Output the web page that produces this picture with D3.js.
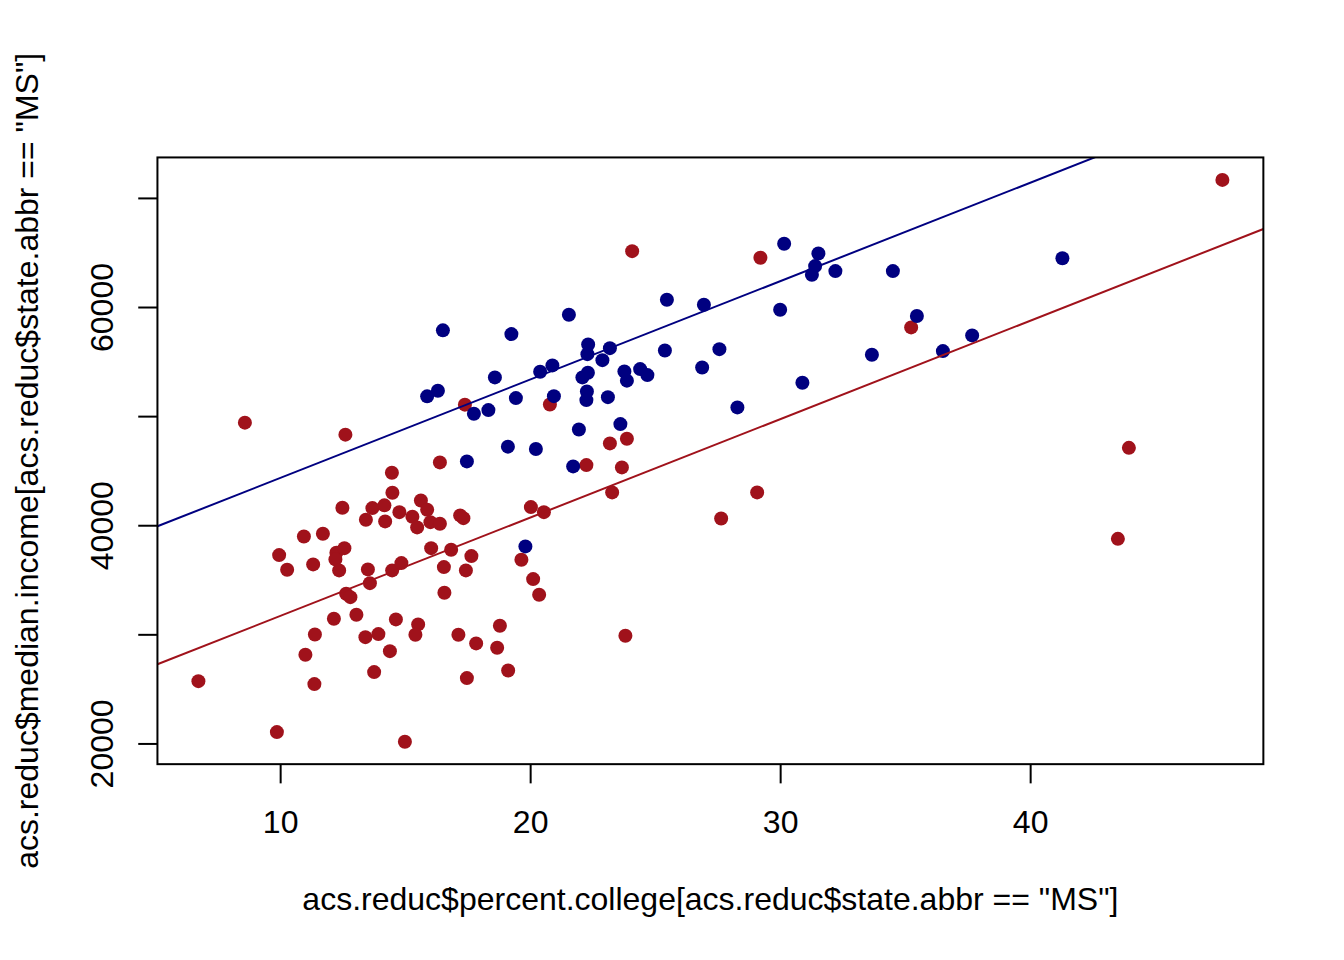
<!DOCTYPE html>
<html>
<head>
<meta charset="utf-8">
<script src="https://cdn.jsdelivr.net/npm/d3@7"></script>
<style>
  html, body { margin: 0; padding: 0; background: #ffffff; }
  svg { display: block; font-family: "Liberation Sans", Arial, Helvetica, sans-serif; }
</style>
</head>
<body>
<svg id="chart" width="1344" height="960"></svg>
<script>

// percent college / median income, counties outside MS (blue)
var otherCollege = [16.51, 15.88, 16.31, 25.47, 26.95, 21.55, 19.25, 22.32, 22.29, 23.19,
    22.89, 25.39, 27.57, 26.88, 18.59, 20.40, 20.89, 22.31, 22.09, 23.77,
    23.87, 24.40, 24.69, 19.43, 20.95, 17.75, 18.33, 22.27, 22.25, 23.11,
    21.95, 23.61, 19.11, 20.23, 17.47, 21.72, 19.81, 30.16, 31.53, 31.40,
    31.27, 32.21, 34.51, 30.00, 35.47, 33.67, 36.51, 37.68, 30.89, 28.29, 41.29];
var otherIncome = [57860, 51810, 52330, 60670, 60210, 59290, 57520, 56570, 55680, 56230,
    55130, 56020, 56140, 54460, 53550, 54070, 54650, 53980, 53550, 54100,
    53250, 54310, 53760, 51650, 51830, 50220, 50550, 52260, 51470, 51740,
    48780, 49270, 47200, 46980, 45850, 45390, 38060, 65800, 64910, 63750,
    62960, 63290, 63290, 59750, 59170, 55630, 55960, 57400, 53060, 50800, 64470];

// counties in MS (red)
var msCollege = [8.59, 12.61, 16.39, 14.47, 14.49, 12.49, 13.69, 14.17, 13.43, 14.20,
    14.77, 15.63, 15.88, 15.29, 15.48, 16.01, 16.39, 10.95, 11.71, 9.96,
    10.28, 11.32, 12.25, 12.57, 12.21, 12.36, 13.51, 13.59, 14.48, 14.85,
    16.04, 16.55, 16.57, 12.64, 12.81, 13.05, 12.15, 11.39, 11.01, 13.41,
    13.93, 14.63, 15.52, 15.41, 14.39, 13.76, 11.37, 6.73, 9.87, 14.99,
    22.25, 23.67, 23.28, 27.64, 20.03, 20.55, 17.20, 17.33, 16.84, 17.65,
    17.43, 19.65, 20.12, 20.36, 18.79, 17.13, 17.84, 18.68, 19.12, 17.47,
    23.81, 24.08, 20.79, 17.39, 23.19, 23.87, 29.21, 35.24, 29.08, 47.69,
    43.95, 43.51];
var msIncome = [49400, 48300, 45760, 44810, 42980, 41600, 41570, 41820, 40500, 40350,
    41200, 42270, 41420, 40780, 39800, 40280, 40140, 38970, 39220, 37260,
    35920, 36410, 37480, 37900, 36870, 35860, 35950, 34690, 35860, 36530,
    37900, 36160, 33810, 33720, 33410, 31800, 31430, 29990, 28130, 29740,
    30020, 31370, 30910, 29960, 28460, 26540, 25440, 25710, 21040, 20160,
    45510, 45300, 43010, 40620, 41660, 41200, 40900, 40650, 37750, 37170,
    35860, 36840, 35060, 33630, 30790, 29960, 29170, 28770, 26690, 25990,
    29870, 65120, 51070, 51050, 47500, 47930, 64520, 58130, 43010, 71650,
    47090, 38750];

// fitted lines (common slope), intercept + slope
var fitOther = [35310, 902];
var fitMS = [22660, 902];

var xTicks = [10, 20, 30, 40];
var yTicks = [20000, 30000, 40000, 50000, 60000, 70000];
var yTickLabels = ["20000", "", "40000", "", "60000", ""];

var xTitle = 'acs.reduc$percent.college[acs.reduc$state.abbr == "MS"]';
var yTitle = 'acs.reduc$median.income[acs.reduc$state.abbr == "MS"]';

var colBlue = "#000080";
var colRed = "#a0121b";

var width = 1344, height = 960;
var line = 38.4;  // one margin line in px
var margin = { top: 4.1 * line, right: 2.1 * line, bottom: 5.1 * line, left: 4.1 * line };
var fontSize = 32;

var svg = d3.select("#chart");

// R style range: data extent padded 4% on each side
function padded(values) {
    var ext = d3.extent(values);
    var pad = (ext[1] - ext[0]) * 0.04;
    return [ext[0] - pad, ext[1] + pad];
}

var x = d3.scaleLinear()
    .domain(padded(otherCollege.concat(msCollege)))
    .range([margin.left, width - margin.right]);

var y = d3.scaleLinear()
    .domain(padded(otherIncome.concat(msIncome)))
    .range([height - margin.bottom, margin.top]);

var plotBottom = height - margin.bottom;

svg.append("rect")
    .attr("width", width)
    .attr("height", height)
    .attr("fill", "#ffffff");

svg.append("clipPath")
    .attr("id", "plotclip")
    .append("rect")
    .attr("x", margin.left)
    .attr("y", margin.top)
    .attr("width", width - margin.left - margin.right)
    .attr("height", height - margin.top - margin.bottom);

// points
var red = msCollege.map((d, i) => ({ x: d, y: msIncome[i] }));
var blue = otherCollege.map((d, i) => ({ x: d, y: otherIncome[i] }));

svg.append("g")
    .selectAll("circle")
    .data(red)
    .enter()
    .append("circle")
    .attr("cx", d => x(d.x))
    .attr("cy", d => y(d.y))
    .attr("r", 7)
    .attr("fill", colRed);

svg.append("g")
    .selectAll("circle")
    .data(blue)
    .enter()
    .append("circle")
    .attr("cx", d => x(d.x))
    .attr("cy", d => y(d.y))
    .attr("r", 7)
    .attr("fill", colBlue);

// abline for each group, clipped to the plot box
var xd = x.domain();
var ab = svg.append("g").attr("clip-path", "url(#plotclip)");
[[fitOther, colBlue], [fitMS, colRed]].forEach(function (f) {
    var c = f[0];
    ab.append("line")
        .attr("x1", x(xd[0]))
        .attr("y1", y(c[0] + c[1] * xd[0]))
        .attr("x2", x(xd[1]))
        .attr("y2", y(c[0] + c[1] * xd[1]))
        .attr("stroke", f[1])
        .attr("stroke-width", 2);
});

// box
svg.append("rect")
    .attr("x", margin.left)
    .attr("y", margin.top)
    .attr("width", width - margin.left - margin.right)
    .attr("height", height - margin.top - margin.bottom)
    .attr("fill", "none")
    .attr("stroke", "#000")
    .attr("stroke-width", 2);

// x axis
var gx = svg.append("g")
    .attr("transform", "translate(0," + plotBottom + ")")
    .call(d3.axisBottom(x).tickValues(xTicks).tickSize(line / 2).tickSizeOuter(0).tickFormat(d3.format("d")));
gx.select(".domain").remove();
gx.selectAll(".tick line").attr("stroke", "#000").attr("stroke-width", 2);
gx.selectAll(".tick text")
    .attr("y", 69)
    .attr("dy", null)
    .attr("fill", "#000")
    .style("font-size", fontSize + "px")
    .style("font-family", "'Liberation Sans', Arial, sans-serif");

// y axis (labels drawn vertically like R)
var gy = svg.append("g")
    .attr("transform", "translate(" + margin.left + ",0)")
    .call(d3.axisLeft(y).tickValues(yTicks).tickSize(line / 2).tickSizeOuter(0).tickFormat((d, i) => yTickLabels[i]));
gy.select(".domain").remove();
gy.selectAll(".tick line").attr("stroke", "#000").attr("stroke-width", 2);
gy.selectAll(".tick text")
    .attr("x", -44)
    .attr("dy", null)
    .attr("transform", "rotate(-90," + (-44) + ",0)")
    .attr("text-anchor", "middle")
    .attr("fill", "#000")
    .style("font-size", fontSize + "px")
    .style("font-family", "'Liberation Sans', Arial, sans-serif");

// axis titles
svg.append("text")
    .attr("x", (margin.left + width - margin.right) / 2)
    .attr("y", 910)
    .attr("text-anchor", "middle")
    .attr("font-size", fontSize)
    .text(xTitle);

var yMid = (margin.top + plotBottom) / 2;
svg.append("text")
    .attr("x", 38)
    .attr("y", yMid)
    .attr("transform", "rotate(-90,38," + yMid + ")")
    .attr("text-anchor", "middle")
    .attr("font-size", fontSize)
    .text(yTitle);

</script>
</body>
</html>
